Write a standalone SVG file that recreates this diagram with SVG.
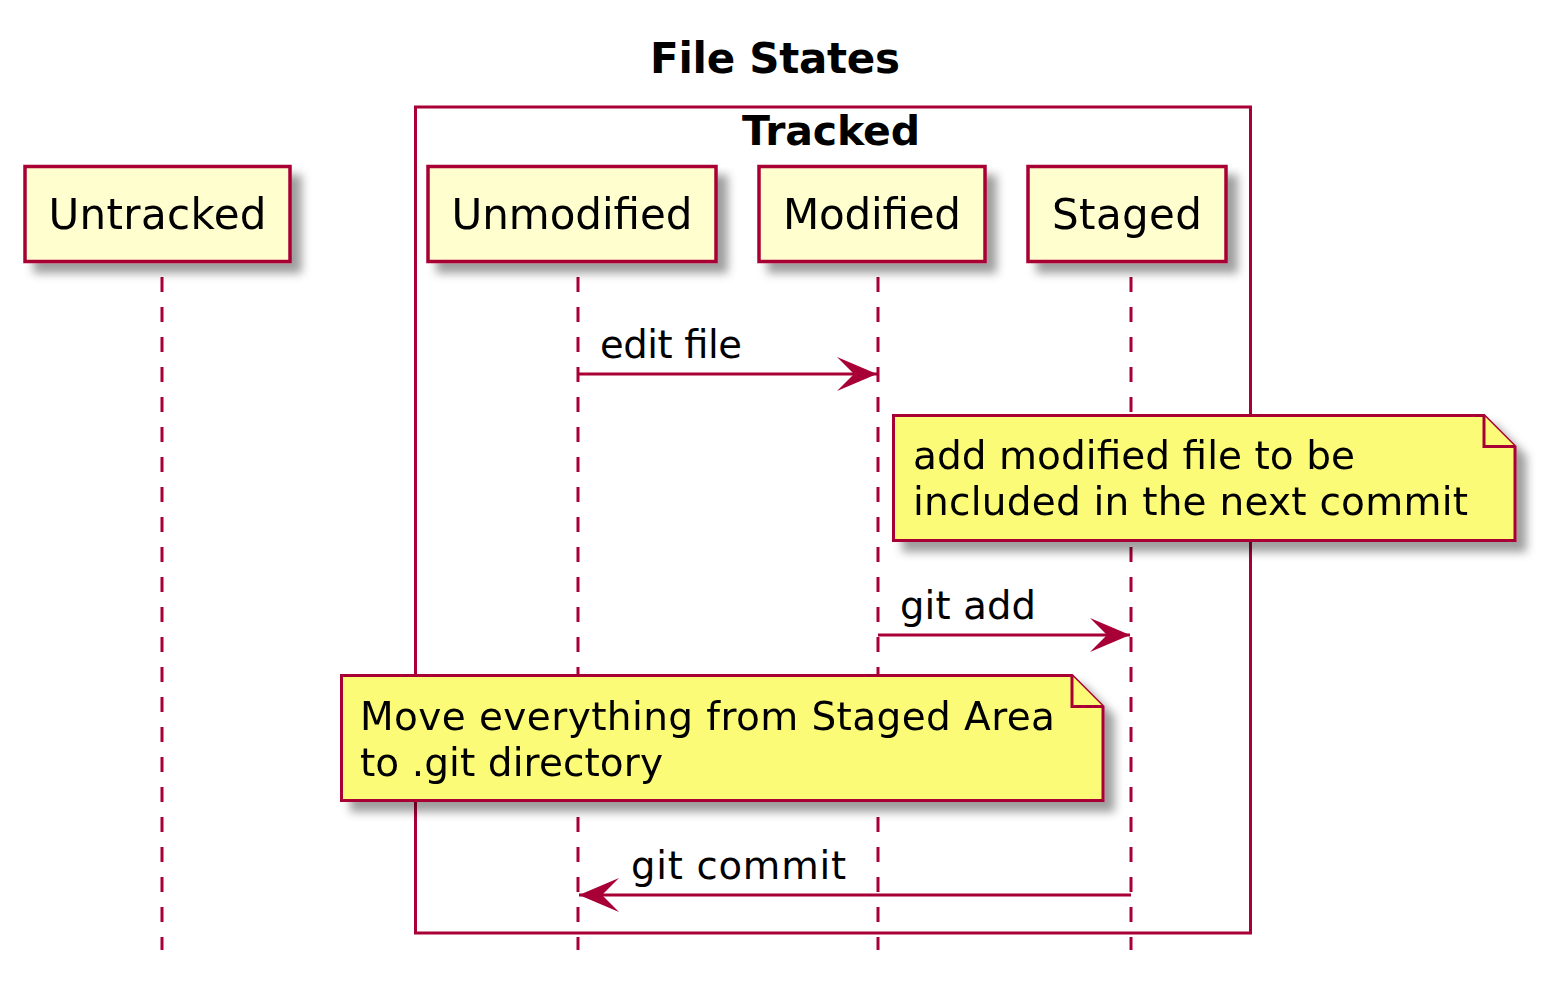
<svg xmlns="http://www.w3.org/2000/svg" width="1550" height="986" viewBox="0 0 1550 986">
  <defs>
    <filter id="shadow" x="-10%" y="-10%" width="130%" height="150%">
      <feGaussianBlur in="SourceAlpha" stdDeviation="5"/>
      <feOffset dx="10" dy="10" result="blur"/>
      <feFlood flood-color="#000" flood-opacity="0.38"/>
      <feComposite in2="blur" operator="in" result="shade"/>
      <feMerge>
        <feMergeNode in="shade"/>
        <feMergeNode in="SourceGraphic"/>
      </feMerge>
    </filter>
    <marker id="head" viewBox="0 0 40 34" refX="40" refY="17" markerWidth="40" markerHeight="34" markerUnits="userSpaceOnUse" orient="auto">
      <polygon points="0,0 40,17 0,34 17,17" fill="#A80036"/>
    </marker>
  </defs>
  <style>
    text { font-family: "DejaVu Sans", "Noto Sans", sans-serif; fill: #000; }
    .title { font-size: 42px; font-weight: bold; }
    .boxlabel { font-size: 41px; font-weight: bold; }
    .participant rect { fill: #FEFECE; stroke: #A80036; stroke-width: 3.5; }
    .participant text { font-size: 42px; }
    .lifeline { stroke: #A80036; stroke-width: 3; stroke-dasharray: 15 15; fill: none; }
    .msg line { stroke: #A80036; stroke-width: 3; marker-end: url(#head); }
    .msg text { font-size: 38.5px; }
    .note path { fill: #FBFB77; stroke: #A80036; stroke-width: 3; stroke-linejoin: miter; }
    .note text { font-size: 39px; }
  </style>

  <rect width="1550" height="986" fill="#FFFFFF"/>

  <text class="title" x="775" y="73" text-anchor="middle" textLength="250" lengthAdjust="spacing">File States</text>

  <!-- box grouping the tracked states -->
  <g id="tracked-box">
    <rect x="415.5" y="107" width="835" height="826" fill="none" stroke="#A80036" stroke-width="3"/>
    <text class="boxlabel" x="831" y="145" text-anchor="middle" textLength="178" lengthAdjust="spacing">Tracked</text>
  </g>

  <!-- lifelines -->
  <g id="lifelines">
    <line class="lifeline" x1="162" y1="277" x2="162" y2="950"/>
    <line class="lifeline" x1="578" y1="277" x2="578" y2="950"/>
    <line class="lifeline" x1="878" y1="277" x2="878" y2="950"/>
    <line class="lifeline" x1="1131" y1="277" x2="1131" y2="950"/>
  </g>

  <!-- participants -->
  <g id="untracked" class="participant" filter="url(#shadow)">
    <rect x="25" y="166.5" width="265" height="95"/>
    <text x="157.5" y="228.5" text-anchor="middle" textLength="218" lengthAdjust="spacing">Untracked</text>
  </g>
  <g id="unmodified" class="participant" filter="url(#shadow)">
    <rect x="428" y="166.5" width="288" height="95"/>
    <text x="572" y="228.5" text-anchor="middle" textLength="241" lengthAdjust="spacing">Unmodified</text>
  </g>
  <g id="modified" class="participant" filter="url(#shadow)">
    <rect x="759" y="166.5" width="226" height="95"/>
    <text x="872" y="228.5" text-anchor="middle" textLength="178" lengthAdjust="spacing">Modified</text>
  </g>
  <g id="staged" class="participant" filter="url(#shadow)">
    <rect x="1028" y="166.5" width="198" height="95"/>
    <text x="1127" y="228.5" text-anchor="middle" textLength="150" lengthAdjust="spacing">Staged</text>
  </g>

  <!-- messages -->
  <g id="connectors">
    <g id="msg-edit" class="msg">
      <line x1="578" y1="374" x2="877" y2="374"/>
      <text x="600" y="358" textLength="142" lengthAdjust="spacing">edit file</text>
    </g>
    <g id="msg-add" class="msg">
      <line x1="878" y1="635" x2="1130" y2="635"/>
      <text x="900" y="619" textLength="136" lengthAdjust="spacing">git add</text>
    </g>
    <g id="msg-commit" class="msg">
      <line x1="1131" y1="895" x2="579" y2="895"/>
      <text x="631" y="879" textLength="215" lengthAdjust="spacing">git commit</text>
    </g>
  </g>

  <!-- notes -->
  <g id="note-add" class="note" filter="url(#shadow)">
    <path d="M893.5,415.5 L1484,415.5 L1515,446.5 L1515,540.5 L893.5,540.5 Z"/>
    <path d="M1484,415.5 L1484,446.5 L1515,446.5"/>
    <text x="913" y="469" textLength="442" lengthAdjust="spacing">add modified file to be</text>
    <text x="913" y="515" textLength="555" lengthAdjust="spacing">included in the next commit</text>
  </g>
  <g id="note-commit" class="note" filter="url(#shadow)">
    <path d="M341.5,675.5 L1072,675.5 L1103,706.5 L1103,800.5 L341.5,800.5 Z"/>
    <path d="M1072,675.5 L1072,706.5 L1103,706.5"/>
    <text x="360" y="730" textLength="695" lengthAdjust="spacing">Move everything from Staged Area</text>
    <text x="360" y="776" textLength="303" lengthAdjust="spacing">to .git directory</text>
  </g>
</svg>
